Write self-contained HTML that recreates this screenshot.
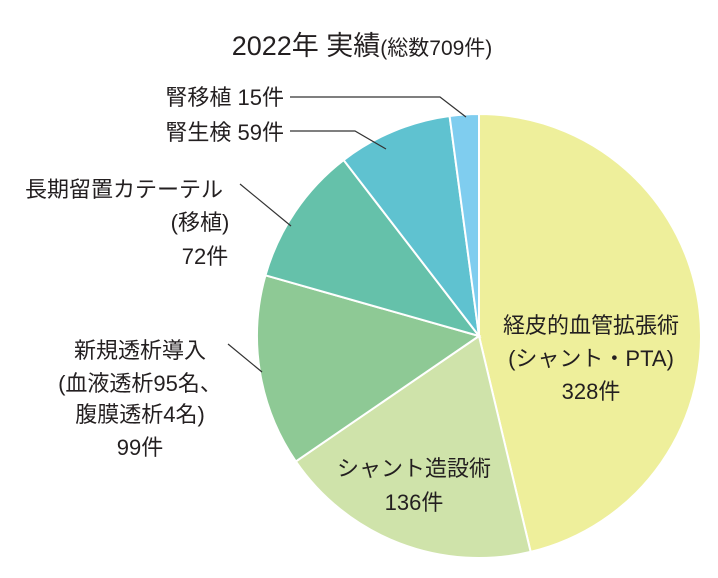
<!DOCTYPE html>
<html><head><meta charset="utf-8">
<style>
body{margin:0;background:#fff;width:718px;height:573px;overflow:hidden;font-family:"Liberation Sans","Noto Sans CJK JP",sans-serif;color:#222}
svg text{font-family:"Liberation Sans","Noto Sans CJK JP",sans-serif;fill:#231f20}
</style></head><body>
<svg width="718" height="573">
<text x="362" y="55" text-anchor="middle" font-size="27">2022年 実績<tspan font-size="21">(総数709件)</tspan></text>
<g id="slices"></g>
<g stroke="#333" stroke-width="1.2" fill="none">
<polyline points="290,97 440,97 466,117"/>
<polyline points="290,131 355,131 386,149"/>
<polyline points="240,184 291,226"/>
<polyline points="228,344 262,372"/>
</g>
<g font-size="22">
<text x="284" y="105" text-anchor="end">腎移植 15件</text>
<text x="284" y="140" text-anchor="end">腎生検 59件</text>
<text text-anchor="middle"><tspan x="124" y="197">長期留置カテーテル</tspan><tspan x="200" y="230">(移植)</tspan><tspan x="205" y="264">72件</tspan></text>
<text text-anchor="middle"><tspan x="140" y="358">新規透析導入</tspan><tspan x="140" y="391">(血液透析95名、</tspan><tspan x="140" y="422">腹膜透析4名)</tspan><tspan x="140" y="455">99件</tspan></text>
<text text-anchor="middle"><tspan x="414" y="476">シャント造設術</tspan><tspan x="414" y="510">136件</tspan></text>
<text text-anchor="middle"><tspan x="591" y="333">経皮的血管拡張術</tspan><tspan x="591" y="366">(シャント・PTA)</tspan><tspan x="591" y="399">328件</tspan></text>
</g>
</svg>
<script>
const categories=["経皮的血管拡張術","シャント造設術","新規透析導入","長期留置カテーテル","腎生検","腎移植"];
const values=[328,136,99,72,59,15];
const colors=["#eeef9b","#cfe3aa","#8ec995","#65c1aa","#5fc2d0","#7fcdef"];
const cx=479,cy=336,r=222;
const g=document.getElementById('slices');
const total=values.reduce((a,b)=>a+b,0);
let a0=0;
function pt(a){return [cx+r*Math.sin(a),cy-r*Math.cos(a)];}
values.forEach((v,i)=>{
  const a1=a0+v/total*2*Math.PI;
  const p0=pt(a0),p1=pt(a1);
  const large=(a1-a0)>Math.PI?1:0;
  const p=document.createElementNS('http://www.w3.org/2000/svg','path');
  p.setAttribute('d',`M${cx},${cy} L${p0[0]},${p0[1]} A${r},${r} 0 ${large} 1 ${p1[0]},${p1[1]} Z`);
  p.setAttribute('fill',colors[i]);
  p.setAttribute('stroke','#fff');
  p.setAttribute('stroke-width','2');
  
  
  g.appendChild(p);
  a0=a1;
});
</script>
</body></html>
